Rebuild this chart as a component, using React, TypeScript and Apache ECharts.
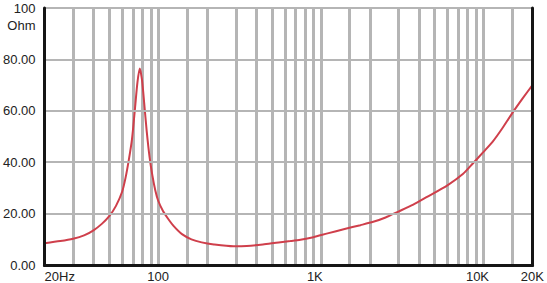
import React, { useEffect, useRef } from "react";
import * as echarts from "echarts";

const freqs = [20, 25, 30, 35, 40, 45, 50, 55, 60, 63, 66, 69, 72, 74.5, 77, 79.5, 82, 85, 88.5, 92, 96, 100, 107, 115, 125, 140, 160, 185, 220, 290, 350, 440, 550, 650, 750, 900, 1100, 1400, 1750, 2100, 2500, 3000, 3700, 4500, 6000, 7500, 8600, 10000, 11400, 13000, 15000, 17500, 20000];
const impedance = [8.5, 9.3, 10.2, 11.5, 13.5, 16, 19, 23, 28.5, 34, 41, 49, 61, 71, 76.5, 72, 63, 52, 42, 35, 29, 25, 21, 18, 15, 12, 10, 8.8, 8, 7.3, 7.4, 8, 8.8, 9.3, 9.8, 10.8, 12.3, 14, 15.5, 16.8, 18.5, 20.8, 23.5, 26.5, 31, 35.5, 39.5, 44, 48, 53, 59, 65, 70];
const gridFreqs = [30, 40, 50, 60, 70, 80, 90, 100, 150, 200, 300, 400, 500, 600, 700, 800, 900, 1000, 1500, 2000, 3000, 4000, 5000, 6000, 7000, 8000, 9000, 10000, 15000];
const xTickLabels: Record<number, string> = { 20: "20Hz", 100: "100", 1000: "1K", 10000: "10K", 20000: "20K" };
const yTicks = [0, 20, 40, 60, 80, 100];

export default function App() {
  const ref = useRef<HTMLDivElement>(null);
  useEffect(() => {
    if (!ref.current) return;
    const chart = echarts.init(ref.current, null, { renderer: "svg" });
    const font = "'Liberation Sans', Arial, sans-serif";
    const border = { show: true, lineStyle: { color: "#151515", width: 3 } };
    chart.setOption({
      animation: false,
      backgroundColor: "#ffffff",
      grid: { left: 44, right: 13, top: 8, bottom: 17.5, containLabel: false },
      xAxis: [
        {
          type: "log",
          logBase: 10,
          min: 20,
          max: 20000,
          splitNumber: 3,
          z: 10,
          axisLine: border,
          axisTick: { show: false },
          splitLine: { show: false },
          axisLabel: {
            fontFamily: font,
            fontSize: 13,
            color: "#222",
            margin: 5,
            alignMinLabel: "left",
            showMinLabel: true,
            showMaxLabel: true,
            formatter: (v: number) => {
              const r = Math.round(v);
              const s = xTickLabels[r] ?? "";
              if (r === 1000 || r === 10000) return "{k|" + s + "}";
              return s;
            },
            rich: { k: { fontFamily: font, fontSize: 13, color: "#222", padding: [0, 12, 0, 0] } },
          },
        },
        {
          type: "log",
          logBase: 10,
          min: 20,
          max: 20000,
          position: "top",
          z: 10,
          axisLine: border,
          axisTick: { show: false },
          axisLabel: { show: false },
          splitLine: { show: false },
        },
      ],
      yAxis: [
        {
          type: "value",
          min: yTicks[0],
          max: yTicks[yTicks.length - 1],
          interval: 20,
          z: 10,
          name: "Ohm",
          nameLocation: "end",
          nameGap: -17,
          nameMoveOverlap: false,
          nameTextStyle: { fontFamily: font, fontSize: 13, color: "#222", align: "right", verticalAlign: "middle", padding: [0, 9, 0, 0] },
          axisLine: border,
          axisTick: { show: false },
          splitLine: { show: true, lineStyle: { color: "#b5b5b5", width: 2 } },
          axisLabel: {
            fontFamily: font,
            fontSize: 13,
            color: "#222",
            margin: 9,
            formatter: (v: number) => (v === 100 ? "100" : v.toFixed(2)),
          },
        },
        {
          type: "value",
          min: 0,
          max: 100,
          position: "right",
          z: 10,
          axisLine: border,
          axisTick: { show: false },
          axisLabel: { show: false },
          splitLine: { show: false },
        },
      ],
      series: [
        {
          type: "line",
          data: [],
          silent: true,
          z: 1,
          markLine: {
            silent: true,
            symbol: "none",
            label: { show: false },
            lineStyle: { color: "#b5b5b5", width: 3, type: "solid" },
            emphasis: { disabled: true },
            data: gridFreqs.map((f) => ({ xAxis: f })),
          },
        },
        {
          type: "line",
          z: 5,
          data: freqs.map((f, i) => [f, impedance[i]]),
          smooth: 0.25,
          showSymbol: false,
          symbol: "none",
          lineStyle: { color: "#cf3f4b", width: 2 },
          silent: true,
        },
      ],
    });
    return () => chart.dispose();
  }, []);
  return <div ref={ref} style={{ position: "fixed", left: 0, top: 0, width: 547, height: 283 }} />;
}
